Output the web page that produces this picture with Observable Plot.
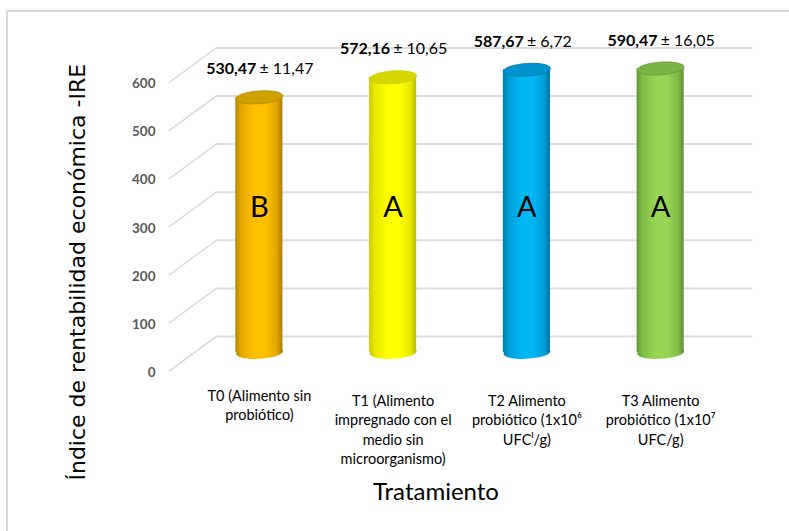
<!DOCTYPE html>
<html>
<head>
<meta charset="utf-8">
<script src="https://cdn.jsdelivr.net/npm/d3@7"></script>
<script src="https://cdn.jsdelivr.net/npm/@observablehq/plot@0.6"></script>
<style>
  html, body { margin: 0; padding: 0; background: #fff; overflow: hidden; }
  #wrap { position: relative; width: 789px; height: 531px; }
  #border { position: absolute; left: 6px; top: 10px; width: 820px; height: 560px; border: 2px solid #d9d9d9; box-sizing: border-box; }
  #chart { position: absolute; left: 0; top: 0; }
</style>
</head>
<body>
<div id="wrap"><div id="border"></div><div id="chart"></div></div>
<script>
// ---- data ----
const categories = [
  "T0 (Alimento sin\nprobiótico)",
  "T1 (Alimento\nimpregnado con el\nmedio sin\nmicroorganismo)",
  "T2 Alimento\nprobiótico (1x10⁶\nUFCˡ/g)",
  "T3 Alimento\nprobiótico (1x10⁷\nUFC/g)"
];
const means = [530.47, 572.16, 587.67, 590.47];
const sds = [11.47, 10.65, 6.72, 16.05];
const letters = ["B", "A", "A", "A"];
const yTicks = [0, 100, 200, 300, 400, 500, 600];
const sideColors = ["#b98500", "#c9c900", "#0079ad", "#5f9a34"];
const mainColors = ["#ffc000", "#ffff00", "#00b7f4", "#97d654"];
const topColors  = ["#d0a000", "#d6d600", "#0093cf", "#78b545"];
const yTitle = "Índice de rentabilidad económica -IRE";
const xTitle = "Tratamiento";

const fmt = v => v.toFixed(2).replace(".", ",");
const data = categories.map((c, i) => ({i, cat: c, mean: means[i], sd: sds[i], letter: letters[i]}));

// geometry helpers (in scale units)
const Y0 = 352, Y600 = 63.4;
const k = (Y0 - Y600) / 600;      // px per unit
const hw = 0.176;                  // half bar width in x units
const depth = 0.178;               // x offset of back wall / front plane

const ellipse = {
  draw(ctx, size) {
    const rx = Math.sqrt(size / Math.PI), ry = rx * 0.27, c = 0.5523;
    ctx.moveTo(rx, 0);
    ctx.bezierCurveTo(rx, ry * c, rx * c, ry, 0, ry);
    ctx.bezierCurveTo(-rx * c, ry, -rx, ry * c, -rx, 0);
    ctx.bezierCurveTo(-rx, -ry * c, -rx * c, -ry, 0, -ry);
    ctx.bezierCurveTo(rx * c, -ry, rx, -ry * c, rx, 0);
    ctx.closePath();
  }
};

const svg = Plot.plot({
  width: 789,
  height: 531,
  marginLeft: 192,
  marginRight: 62,
  marginTop: Y600,
  marginBottom: 531 - Y0,
  style: {fontFamily: "Lato, 'Open Sans', sans-serif", background: "transparent"},
  x: {domain: [0, 4], axis: null},
  y: {domain: [0, 600], axis: null},
  color: {type: "identity"},
  marks: [
    // back wall gridlines
    Plot.ruleY(yTicks, {y: d => d, x1: depth, x2: 4.19, dy: -16, stroke: "#dcdcdc", strokeWidth: 2}),
    // floor/diagonal connectors
    Plot.link(yTicks, {x1: -depth, y1: d => d - 19 / k, x2: depth, y2: d => d + 16 / k, stroke: "#dcdcdc", strokeWidth: 1.6}),
    Plot.axisY(yTicks, {tickSize: 0, tickPadding: 37, dy: 20, fontSize: 13.5, fontWeight: "bold", fill: "#595959", label: null}),
    // cylinders: bottom cap, body, top cap
    Plot.dot(data, {x: d => d.i + 0.5, y: 0, r: 23.5, symbol: ellipse, fill: d => `url(#grad${d.i})`, stroke: "none", rotate: -3}),
    Plot.rectY(data, {x1: d => d.i + 0.5 - hw, x2: d => d.i + 0.5 + hw, y1: 0, y2: d => d.mean, fill: d => `url(#grad${d.i})`, inset: 0}),
    Plot.dot(data, {x: d => d.i + 0.5, y: d => d.mean, r: 23.5, symbol: ellipse, fill: d => topColors[d.i], stroke: d => sideColors[d.i], strokeWidth: 0.8, rotate: -4}),
    // letters
    Plot.text(data, {x: d => d.i + 0.5, frameAnchor: "middle", text: "letter", fontSize: 29, fill: "#000"}),
    // value labels
    Plot.text(data, {x: d => d.i + 0.5, y: "mean", text: d => fmt(d.mean), textAnchor: "end", dx: -3, dy: -28, fontSize: 16, fontWeight: "bold", fill: "#000"}),
    Plot.text(data, {x: d => d.i + 0.5, y: "mean", text: d => "± " + fmt(d.sd), textAnchor: "start", dx: 0, dy: -28, fontSize: 16, fill: "#000"}),
    // category labels
    Plot.text(data, {filter: d => d.i === 0, x: d => d.i + 0.5, y: 0, text: "cat", lineAnchor: "top", dy: 35, fontSize: 14.5, lineHeight: 1.33, fill: "#000"}),
    Plot.text(data, {filter: d => d.i > 0, x: d => d.i + 0.5, y: 0, text: "cat", lineAnchor: "top", dy: 40, fontSize: 14.5, lineHeight: 1.33, fill: "#000"}),
    // axis titles
    Plot.text([xTitle], {frameAnchor: "bottom", lineAnchor: "middle", dx: -24, dy: 140, fontSize: 24, fill: "#000"}),
    Plot.text([yTitle], {frameAnchor: "left", textAnchor: "middle", lineAnchor: "middle", rotate: -90, dx: -115, dy: 64, fontSize: 22, fontFamily: "'DejaVu Sans', sans-serif", fill: "#000"})
  ]
});

// gradients for cylinder shading
const defs = d3.select(svg).insert("defs", ":first-child");
data.forEach(d => {
  const g = defs.append("linearGradient").attr("id", `grad${d.i}`).attr("x1", "0").attr("x2", "1").attr("y1", "0").attr("y2", "0");
  const side = d3.color(sideColors[d.i]), main = d3.color(mainColors[d.i]);
  const mid = d3.interpolateRgb(side, main);
  [[0, side], [0.12, mid(0.6)], [0.4, main], [0.65, main], [0.88, mid(0.55)], [1, side.darker(0.2)]]
    .forEach(([o, c]) => g.append("stop").attr("offset", o).attr("stop-color", c));
});

document.getElementById("chart").appendChild(svg);
</script>
</body>
</html>
